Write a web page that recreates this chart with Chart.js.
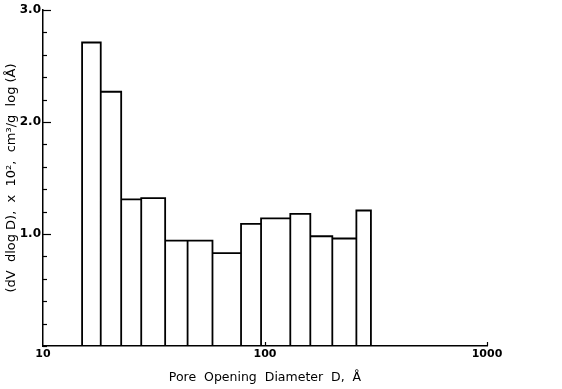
<!DOCTYPE html>
<html>
<head>
<meta charset="utf-8">
<script src="https://cdn.jsdelivr.net/npm/chart.js@4/dist/chart.umd.min.js"></script>
<style>
  html, body { margin: 0; padding: 0; background: #fff; }
  #wrap { width: 562px; height: 389px; }
</style>
</head>
<body>
<div id="wrap"><canvas id="poreChart"></canvas></div>
<script>
// bin edges (pore diameter, Å) and heights
const binEdges = [15, 18.2, 22.5, 27.7, 35.5, 44.8, 58, 78, 96, 130, 160, 201, 258, 300];
const binValues = [2.71, 2.27, 1.31, 1.32, 0.94, 0.94, 0.83, 1.09, 1.14, 1.18, 0.98, 0.96, 1.21];
const xTickValues = [10, 100, 1000];
const yTickLabels = [1, 2, 3];

// outline of the histogram: each bar drawn up, across and back down to the baseline
const outline = [];
binValues.forEach((v, i) => {
  outline.push({ x: binEdges[i], y: 0 });
  outline.push({ x: binEdges[i], y: v });
  outline.push({ x: binEdges[i + 1], y: v });
  outline.push({ x: binEdges[i + 1], y: 0 });
});

// small tick marks pointing into the plot, like the original figure
const innerTicks = {
  id: 'innerTicks',
  afterDraw(chart) {
    const { ctx, chartArea, scales } = chart;
    ctx.save();
    ctx.strokeStyle = '#000';
    ctx.lineWidth = 1.2;
    scales.y.ticks.forEach(t => {
      const y = Math.round(scales.y.getPixelForValue(t.value)) + 0.5;
      const major = yTickLabels.some(v => Math.abs(v - t.value) < 1e-6);
      ctx.beginPath();
      ctx.moveTo(chartArea.left, y);
      ctx.lineTo(chartArea.left + (major ? 8 : 4), y);
      ctx.stroke();
    });
    xTickValues.slice(1).forEach(v => {
      const x = Math.round(scales.x.getPixelForValue(v)) + 0.5;
      ctx.beginPath();
      ctx.moveTo(x, chartArea.bottom);
      ctx.lineTo(x, chartArea.bottom - 4);
      ctx.stroke();
    });
    ctx.restore();
  }
};

const fontFamily = '"DejaVu Sans", sans-serif';

new Chart(document.getElementById('poreChart').getContext('2d'), {
  type: 'scatter',
  data: {
    datasets: [{
      data: outline,
      showLine: true,
      borderColor: '#000',
      borderWidth: 1.8,
      pointRadius: 0,
      fill: false
    }]
  },
  options: {
    responsive: true,
    maintainAspectRatio: false,
    animation: false,
    layout: { padding: { top: 10, right: 75, left: 0, bottom: 0 } },
    plugins: {
      legend: { display: false },
      tooltip: { enabled: false }
    },
    scales: {
      x: {
        type: 'logarithmic',
        min: 10,
        max: 1000,
        afterBuildTicks: scale => {
          scale.ticks = xTickValues.map(v => ({ value: v }));
        },
        afterFit: scale => { scale.height = 43; },
        grid: { display: false, tickLength: 0 },
        border: { display: true, color: '#000', width: 1.5 },
        ticks: {
          color: '#000',
          font: { family: fontFamily, size: 11, weight: 'bold' },
          padding: 2,
          maxRotation: 0,
          autoSkip: false,
          callback: v => String(v)
        },
        title: {
          display: true,
          text: 'Pore  Opening  Diameter  D,  Å',
          color: '#000',
          font: { family: fontFamily, size: 12.5 },
          padding: { top: 0, bottom: 4 }
        }
      },
      y: {
        min: 0,
        max: 3,
        afterFit: scale => { scale.width = 43; },
        grid: { display: false, tickLength: 0 },
        border: { display: true, color: '#000', width: 1.5 },
        ticks: {
          stepSize: 0.2,
          color: '#000',
          font: { family: fontFamily, size: 12, weight: 'bold' },
          padding: 2,
          autoSkip: false,
          callback: v => yTickLabels.some(t => Math.abs(t - v) < 1e-6) ? v.toFixed(1) : ''
        },
        title: {
          display: true,
          text: '(dV  dlog D),  x  10²,  cm³/g  log (Å)',
          color: '#000',
          font: { family: fontFamily, size: 13 },
          padding: { top: 4, bottom: 0 }
        }
      }
    }
  },
  plugins: [innerTicks]
});
</script>
</body>
</html>
